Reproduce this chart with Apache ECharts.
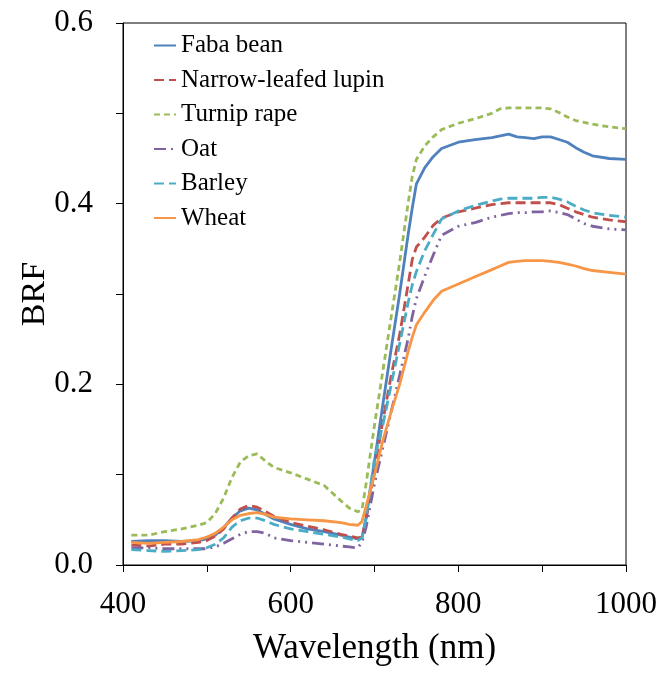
<!DOCTYPE html>
<html>
<head>
<meta charset="utf-8">
<title>BRF spectra</title>
<script src="https://cdn.jsdelivr.net/npm/echarts@6/dist/echarts.min.js"></script>
<style>
    html,body{margin:0;padding:0;background:#fff;}
    #main{width:662px;height:675px;}
</style>
</head>
<body>
<div id="main"></div>
<script>
//波长 (nm)
var wavelengths=[410,430,450,470,490,500,510,520,530,540,550,560,570,580,600,620,640,660,670,680,685,690,700,710,720,730,740,745,750,760,770,780,800,820,840,850,860,870,880,890,900,910,920,930,940,950,960,980,1000];

var fabaBean=[.026,.027,.027,.026,.027,.029,.033,.041,.052,.060,.063,.061,.056,.051,.045,.040,.037,.033,.031,.029,.030,.052,.115,.178,.240,.300,.365,.395,.422,.440,.452,.461,.468,.471,.473,.475,.477,.474,.473,.472,.474,.474,.471,.468,.462,.457,.453,.450,.449];
var lupin=[.022,.021,.023,.023,.025,.027,.032,.040,.052,.062,.066,.064,.059,.054,.047,.043,.039,.034,.032,.030,.031,.050,.105,.160,.210,.255,.310,.338,.352,.363,.376,.384,.391,.395,.399,.400,.401,.401,.401,.401,.401,.401,.399,.395,.391,.388,.385,.382,.380];
var turnipRape=[.033,.033,.037,.040,.044,.047,.057,.074,.097,.114,.121,.123,.115,.108,.102,.095,.088,.071,.063,.059,.061,.090,.155,.215,.275,.335,.400,.430,.449,.464,.474,.482,.489,.494,.500,.505,.506,.506,.506,.506,.506,.505,.501,.496,.492,.490,.488,.485,.483];
var oat=[.019,.019,.018,.018,.018,.018,.020,.024,.029,.034,.037,.037,.035,.030,.027,.025,.023,.021,.020,.019,.025,.042,.090,.130,.170,.210,.250,.275,.295,.320,.343,.365,.375,.379,.385,.387,.389,.390,.390,.391,.391,.392,.390,.388,.383,.378,.375,.372,.371];
var barley=[.017,.016,.015,.016,.017,.019,.023,.030,.042,.049,.052,.052,.049,.045,.040,.037,.034,.031,.029,.027,.030,.052,.118,.155,.200,.245,.290,.310,.325,.348,.366,.383,.392,.398,.403,.405,.406,.406,.406,.406,.407,.407,.405,.402,.397,.393,.390,.387,.385];
var wheat=[.025,.024,.025,.026,.028,.031,.035,.042,.050,.055,.057,.058,.056,.053,.051,.050,.049,.047,.045,.044,.048,.065,.100,.138,.170,.200,.236,.252,.266,.280,.293,.303,.311,.319,.327,.331,.335,.336,.337,.337,.337,.336,.335,.333,.331,.328,.326,.324,.322];

//坐标轴刻度标签
var xTicks=[400,600,800,1000];
var yTicks=['0.0','0.2','0.4','0.6'];

var fontName='Liberation Serif';

function toPairs(values){
    var out=[];
    for(var i=0;i<wavelengths.length;i++){
        out.push([wavelengths[i],values[i]]);
    }
    return out;
}

function makeLine(name,values,color,dash){
    return {
        name:name,
        type:'line',
        symbol:'none',
        showSymbol:false,
        data:toPairs(values),
        itemStyle:{color:color},
        lineStyle:{
            color:color,
            width:2.8,
            type:dash
        }
    };
}

var chart=echarts.init(document.getElementById('main'));
var option={
    animation:false,
    backgroundColor:'#fff',
    textStyle:{fontFamily:fontName,color:'#000'},
    grid:{
        left:123,right:36,top:23,bottom:110,
        show:true,
        borderColor:'#000',
        borderWidth:1
    },
    legend:{
        orient:'vertical',
        left:153,
        top:33,
        padding:0,
        itemWidth:22,
        itemHeight:14,
        itemGap:9.5,
        itemStyle:{opacity:0},
        textStyle:{fontFamily:fontName,fontSize:25,lineHeight:24,color:'#000'},
        data:['Faba bean','Narrow-leafed lupin','Turnip rape','Oat','Barley','Wheat']
    },
    xAxis:{
        type:'value',
        min:400,
        max:1000,
        interval:100,
        name:'Wavelength (nm)',
        nameLocation:'middle',
        nameGap:66,
        nameTextStyle:{fontFamily:fontName,fontSize:35,color:'#000'},
        axisLine:{show:true,onZero:false,lineStyle:{color:'#000',width:1}},
        axisTick:{show:true,length:7,lineStyle:{color:'#000'}},
        axisLabel:{
            margin:24,
            fontFamily:fontName,
            fontSize:31,
            color:'#000',
            formatter:function(v){
                return xTicks.indexOf(v)>=0?String(v):'';
            }
        },
        splitLine:{show:false}
    },
    yAxis:{
        type:'value',
        min:0,
        max:0.6,
        interval:0.1,
        name:'BRF',
        nameLocation:'middle',
        nameRotate:90,
        nameGap:71,
        nameMoveOverlap:false,
        nameTextStyle:{fontFamily:fontName,fontSize:34,color:'#000'},
        axisLine:{show:true,lineStyle:{color:'#000',width:1}},
        axisTick:{show:true,length:7,lineStyle:{color:'#000'}},
        axisLabel:{
            margin:30,
            fontFamily:fontName,
            fontSize:31,
            color:'#000',
            formatter:function(v){
                var s=v.toFixed(1);
                return yTicks.indexOf(s)>=0?s:'';
            }
        },
        splitLine:{show:false}
    },
    series:[
        makeLine('Faba bean',fabaBean,'#4F81BD','solid'),
        makeLine('Narrow-leafed lupin',lupin,'#C0504D',[10,5]),
        makeLine('Turnip rape',turnipRape,'#9BBB59',[6,4]),
        makeLine('Oat',oat,'#8064A2',[12,5,2,5,2,5]),
        makeLine('Barley',barley,'#4BACC6',[10,5]),
        makeLine('Wheat',wheat,'#F79646','solid')
    ]
};
chart.setOption(option);
</script>
</body>
</html>
